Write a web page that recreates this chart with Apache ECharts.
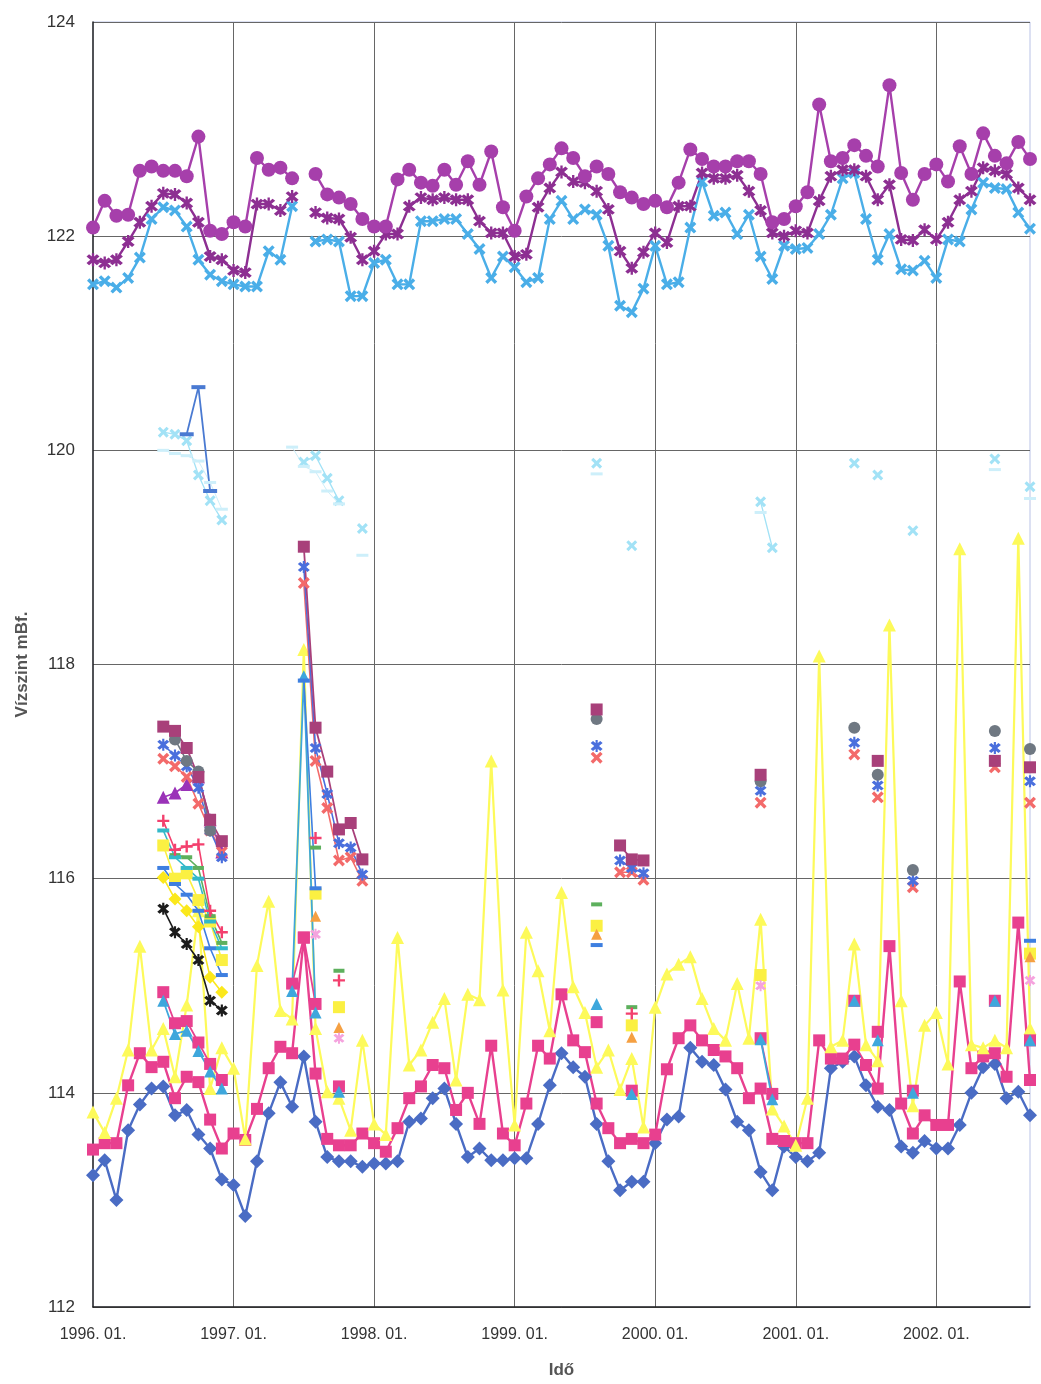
<!DOCTYPE html>
<html><head><meta charset="utf-8">
<script src="https://cdn.jsdelivr.net/npm/echarts@6/dist/echarts.min.js"></script>
<style>html,body{margin:0;padding:0;background:#fff}#c{width:1041px;height:1384px}</style>
</head><body><div id="c"></div>
<script>
// month index 0 = 1996.01 ... 80 = 2002.09
const months = Array.from({length:81},(_, i)=>{const y=1996+Math.floor(i/12), m=i%12+1; return y+'. '+(m<10?'0':'')+m+'.';});
const yTicks = [112,114,116,118,120,122,124];

// main series (one value per month)
const circ = [122.08,122.33,122.19,122.20,122.61,122.65,122.61,122.61,122.56,122.93,122.05,122.02,122.13,122.09,122.73,122.62,122.64,122.54,null,122.58,122.39,122.36,122.30,122.16,122.09,122.09,122.53,122.62,122.50,122.47,122.62,122.48,122.70,122.48,122.79,122.27,122.05,122.37,122.54,122.67,122.82,122.73,122.56,122.65,122.58,122.41,122.36,122.30,122.33,122.27,122.50,122.81,122.72,122.65,122.65,122.70,122.70,122.58,122.13,122.16,122.28,122.41,123.23,122.70,122.73,122.85,122.75,122.65,123.41,122.59,122.34,122.58,122.67,122.51,122.84,122.58,122.96,122.75,122.68,122.88,122.72];
const ast = [121.78,121.75,121.78,121.95,122.13,122.28,122.40,122.39,122.31,122.13,121.81,121.78,121.68,121.66,122.30,122.30,122.24,122.37,null,122.22,122.17,122.16,121.99,121.78,121.86,122.02,122.02,122.28,122.36,122.34,122.36,122.34,122.34,122.14,122.03,122.03,121.81,121.83,122.27,122.45,122.60,122.51,122.50,122.42,122.25,121.86,121.70,121.85,122.03,121.94,122.28,122.28,122.59,122.54,122.54,122.57,122.42,122.24,122.03,122.00,122.05,122.03,122.33,122.56,122.62,122.62,122.56,122.34,122.48,121.97,121.96,122.06,121.97,122.13,122.34,122.42,122.64,122.61,122.58,122.45,122.34];
const lbx = [121.55,121.58,121.52,121.61,121.80,122.16,122.27,122.24,122.09,121.78,121.64,121.58,121.55,121.53,121.53,121.86,121.78,122.28,null,121.95,121.97,121.95,121.44,121.44,121.75,121.78,121.55,121.55,122.14,122.14,122.16,122.16,122.02,121.88,121.61,121.81,121.71,121.57,121.61,122.16,122.33,122.16,122.25,122.20,121.91,121.35,121.29,121.51,121.91,121.55,121.57,122.08,122.51,122.19,122.22,122.02,122.20,121.81,121.60,121.91,121.88,121.89,122.02,122.20,122.54,122.59,122.16,121.78,122.02,121.69,121.68,121.77,121.61,121.97,121.95,122.25,122.50,122.45,122.44,122.22,122.07];
const dia = [113.23,113.37,113.00,113.65,113.89,114.04,114.06,113.79,113.84,113.61,113.48,113.19,113.14,112.85,113.36,113.81,114.10,113.87,114.34,113.73,113.40,113.36,113.36,113.31,113.34,113.34,113.36,113.73,113.76,113.95,114.04,113.71,113.40,113.48,113.37,113.37,113.39,113.39,113.71,114.07,114.37,114.24,114.15,113.71,113.36,113.09,113.17,113.17,113.53,113.75,113.78,114.42,114.29,114.26,114.03,113.73,113.65,113.26,113.09,113.50,113.40,113.36,113.44,114.23,114.29,114.34,114.07,113.87,113.84,113.50,113.44,113.55,113.48,113.48,113.70,114.00,114.24,114.27,113.95,114.01,113.79];
const sq = [113.47,113.53,113.53,114.07,114.37,114.24,114.29,113.95,114.15,114.10,113.75,113.48,113.62,113.56,113.85,114.23,114.43,114.37,115.45,114.18,113.57,113.51,113.51,113.62,113.53,113.45,113.67,113.95,114.06,114.26,114.23,113.84,114.00,113.71,114.44,113.62,113.51,113.90,114.44,114.32,114.92,114.49,114.38,113.90,113.67,113.53,113.57,113.53,113.61,114.22,114.51,114.63,114.49,114.40,114.34,114.23,113.95,114.04,113.57,113.55,113.53,113.53,114.49,114.32,114.32,114.45,114.26,114.04,115.37,113.90,113.62,113.79,113.70,113.70,115.04,114.23,114.34,114.37,114.15,115.59,114.12];
const tri = [113.82,113.63,113.95,114.40,115.37,114.40,114.60,114.15,114.82,115.70,114.04,114.42,114.23,113.57,115.19,115.79,114.77,114.69,118.14,114.60,114.01,113.95,113.65,114.49,113.71,113.61,115.45,114.26,114.40,114.66,114.88,114.12,114.92,114.87,117.10,114.96,113.70,115.50,115.14,114.58,115.87,114.99,114.75,114.24,114.40,114.03,114.32,113.68,114.80,115.11,115.20,115.27,114.88,114.60,114.49,115.02,114.51,115.62,113.85,113.69,113.51,113.95,118.08,114.43,114.49,115.39,114.45,114.30,118.37,114.86,113.88,114.63,114.75,114.27,119.08,114.45,114.42,114.49,114.42,119.18,114.60];

// sparse wells: [month, level]
const cyanX = [[6,120.17],[7,120.15],[8,120.09],[9,119.77],[10,119.53],[11,119.35],[18,119.89],[19,119.95],[20,119.74],[21,119.53],[23,119.27],[43,119.88],[46,119.11],[57,119.52],[58,119.09],[65,119.88],[67,119.77],[70,119.25],[77,119.92],[80,119.66]];
const paleDash = [[6,120.00],[7,119.97],[8,119.95],[9,119.90],[10,119.70],[11,119.45],[17,120.03],[18,119.85],[19,119.80],[20,119.62],[21,119.50],[23,119.02],[43,119.78],[57,119.42],[77,119.82],[80,119.55]];
const blueT = [[8,120.15],[9,120.59],[10,119.62]];
const sqA = [[6,117.42],[7,117.38],[8,117.22],[9,116.95],[10,116.55],[11,116.35],[18,119.10],[19,117.41],[20,117.00],[21,116.46],[22,116.52],[23,116.18],[43,117.58],[45,116.31],[46,116.18],[47,116.17],[57,116.97],[67,117.10],[77,117.10],[80,117.04]];
const bxB = [[6,117.25],[7,117.15],[8,117.05],[9,116.85],[10,116.45],[11,116.20],[18,118.91],[19,117.22],[20,116.79],[21,116.33],[22,116.29],[23,116.04],[43,117.24],[45,116.17],[46,116.10],[47,116.05],[57,116.82],[65,117.27],[67,116.87],[70,115.98],[77,117.22],[80,116.91]];
const rxC = [[6,117.12],[7,117.05],[8,116.95],[9,116.70],[10,116.45],[11,116.25],[18,118.76],[19,117.10],[20,116.66],[21,116.17],[22,116.20],[23,115.98],[43,117.13],[45,116.06],[46,116.06],[47,115.99],[57,116.71],[65,117.16],[67,116.76],[70,115.92],[77,117.04],[80,116.71]];
const gcD = [[7,117.30],[8,117.10],[9,117.00],[10,116.45],[43,117.49],[57,116.91],[65,117.41],[67,116.97],[70,116.08],[77,117.38],[80,117.21]];
const ptE = [[6,116.76],[7,116.80],[8,116.88],[9,116.95],[10,116.55],[11,116.25]];
const rpF = [[6,116.54],[7,116.27],[8,116.30],[9,116.32],[10,115.70],[11,115.50],[19,116.38],[21,115.05],[46,114.74]];
const tdG = [[6,116.45],[7,116.20],[8,116.10],[9,116.00],[10,115.60],[11,115.35]];
const gdH = [[7,116.22],[8,116.20],[9,116.10],[10,115.65],[11,115.40],[19,116.29],[21,115.14],[43,115.76],[46,114.80]];
const ysI = [[6,116.31],[7,116.00],[8,116.05],[9,115.80],[10,115.60],[11,115.24],[19,115.86],[21,114.80],[43,115.56],[46,114.63],[57,115.10],[80,115.30]];
const ydJ = [[6,116.01],[7,115.81],[8,115.70],[9,115.55],[10,115.08],[11,114.94]];
const baK = [[6,115.72],[7,115.50],[8,115.39],[9,115.24],[10,114.86],[11,114.77]];
const bdL = [[6,116.10],[7,115.95],[8,115.85],[9,115.70],[10,115.35],[11,115.10],[18,117.85],[19,115.91],[43,115.38],[80,115.42]];
const otM = [[19,115.65],[21,114.61],[43,115.48],[46,114.52],[80,115.27]];
const paN = [[19,115.48],[21,114.51],[57,115.00],[80,115.05]];
const ctO = [[6,114.86],[7,114.55],[8,114.58],[9,114.39],[10,114.20],[11,114.04],[17,114.95],[18,117.89],[19,114.75],[21,114.01],[43,114.83],[46,113.99],[57,114.50],[58,113.94],[65,114.86],[67,114.49],[70,114.00],[77,114.86],[80,114.49]];
const psP = [[6,114.94],[7,114.65],[8,114.67],[9,114.47],[10,114.27],[11,114.12],[17,115.02],[18,115.45],[19,114.83],[21,114.06],[43,114.66],[46,114.02],[57,114.51],[58,113.99],[65,114.86],[67,114.57],[70,114.02],[77,114.86],[80,114.49]];

function fill(pairs){const a=new Array(months.length).fill(null);pairs.forEach(p=>{a[p[0]]=p[1];});return a;}

const X = 'path://M2,0 L5,3 L8,0 L10,2 L7,5 L10,8 L8,10 L5,7 L2,10 L0,8 L3,5 L0,2 Z';
const AST = 'path://M2,0 L5,3 L8,0 L10,2 L7,5 L10,8 L8,10 L5,7 L2,10 L0,8 L3,5 L0,2 Z M4.1,-1 L5.9,-1 L5.9,11 L4.1,11 Z';
const PLUS = 'path://M4,0 L6,0 L6,4 L10,4 L10,6 L6,6 L6,10 L4,10 L4,6 L0,6 L0,4 L4,4 Z';

function S(data, color, symbol, size, lw, z, opacity){
  return {type:'line', data:data, connectNulls:false, showAllSymbol:true, symbol:symbol, symbolSize:size,
    itemStyle:{color:color, opacity:opacity==null?1:opacity}, lineStyle:{color:color, width:lw, opacity:opacity==null?1:opacity},
    z:z||2, emphasis:{disabled:true}, silent:true};
}

const series = [
  S(dia,'#4a6cc4','diamond',14,2.4,2),
  S(sq,'#e8408f','rect',12,2.4,2),
  S(tri,'#fdfa5a','triangle',13,2.2,2),
  S(lbx,'#4aaee8',X,12,2.4,2),
  S(ast,'#8d2f92',AST,13,2.4,2),
  S(circ,'#a63fab','circle',14,2.4,2),
  S(fill(cyanX),'#a2e2f6',X,11,1.3,3),
  S(fill(paleDash),'#cdeffa','rect',[12,3],1,3),
  S(fill(blueT),'#4a7ad2','rect',[14,4],1.8,3),
  S(fill(psP),'#e8408f','rect',12,1.8,3),
  S(fill(ctO),'#3ea7dc','triangle',12,1.8,3),
  S(fill(baK),'#1c1c1c',AST,12,1.6,3),
  S(fill(ydJ),'#fbe81c','diamond',13,1.6,3),
  S(fill(ysI),'#fbf042','rect',12,1.6,3),
  S(fill(bdL),'#3e7fe0','rect',[12,4],1.6,3),
  S(fill(otM),'#f5a042','triangle',11,1.6,3),
  S(fill(paN),'#f5a3de',AST,11,1.6,3),
  S(fill(gdH),'#5db05d','rect',[11,4],1.6,3),
  S(fill(tdG),'#33b9c9','rect',[12,4],1.6,3),
  S(fill(rpF),'#f3406e',PLUS,12,1.6,3),
  S(fill(ptE),'#9a32b8','triangle',13,1.6,3),
  S(fill(rxC),'#f36a6a',X,12,1.6,3),
  S(fill(bxB),'#4a6fdd',AST,12,1.6,3),
  S(fill(gcD),'#6f7882','circle',12,1.6,3),
  S(fill(sqA),'#a8407a','rect',12,1.8,3)
];

const chart = echarts.init(document.getElementById('c'), null, {renderer:'canvas'});
chart.setOption({
  animation:false,
  backgroundColor:'#ffffff',
  grid:{left:93, right:11, top:22, bottom:74, show:true, borderColor:'#b9c2e6', borderWidth:1},
  xAxis:{type:'category', data:months, boundaryGap:false,
    name:'Idő', nameLocation:'middle', nameGap:55,
    nameTextStyle:{fontFamily:'Liberation Sans, Arial, sans-serif', fontSize:17, fontWeight:'bold', color:'#555'},
    axisLine:{lineStyle:{color:'#222', width:1.5}},
    axisTick:{show:false},
    axisLabel:{interval:(i)=>i%12===0, margin:20, fontFamily:'Liberation Sans, Arial, sans-serif', fontSize:16, color:'#333'},
    splitLine:{show:true, interval:(i)=>i%12===0 && i>0, lineStyle:{color:'#666', width:1}}
  },
  yAxis:{type:'value', min:yTicks[0], max:yTicks[yTicks.length-1], interval:2,
    name:'Vízszint mBf.', nameLocation:'middle', nameGap:62, nameRotate:90,
    nameTextStyle:{fontFamily:'Liberation Sans, Arial, sans-serif', fontSize:17, fontWeight:'bold', color:'#555'},
    axisLine:{show:true, lineStyle:{color:'#222', width:1.5}},
    axisTick:{show:false},
    axisLabel:{margin:18, fontFamily:'Liberation Sans, Arial, sans-serif', fontSize:17, color:'#333'},
    splitLine:{show:true, lineStyle:{color:'#666', width:1}}
  },
  series:series
});
</script></body></html>
